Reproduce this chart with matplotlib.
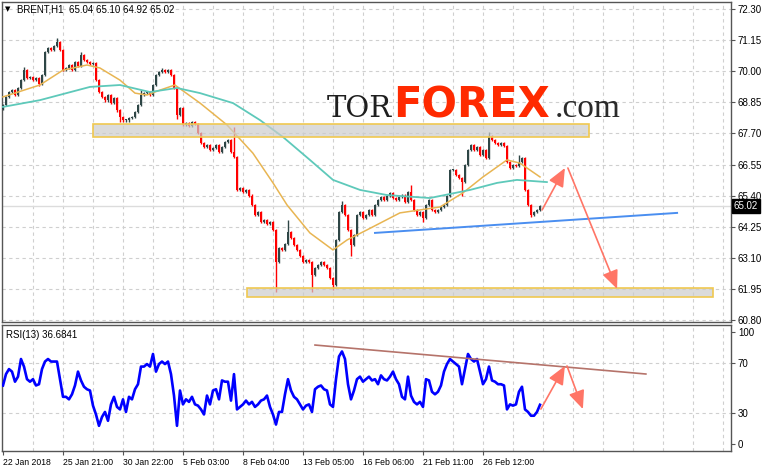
import numpy as np
import matplotlib.pyplot as plt
from matplotlib.patches import Rectangle
from matplotlib.transforms import blended_transform_factory

# hourly closes (one value per bar)
closes = [68.75, 69.05, 69.23, 69.30, 69.12, 69.38, 69.67, 70.04, 69.75, 69.79,
          69.67, 69.75, 69.53, 69.86, 70.71, 70.86, 70.78, 70.93, 71.08, 70.78,
          70.04, 70.12, 70.23, 70.04, 70.34, 70.19, 70.60, 70.41, 70.34, 70.27,
          70.30, 69.67, 69.23, 69.05, 68.93, 69.12, 68.82, 69.01, 68.56, 68.31,
          68.19, 68.19, 68.27, 68.31, 68.49, 68.75, 69.12, 69.19, 69.23, 69.12,
          69.49, 69.86, 69.97, 70.04, 69.97, 70.04, 69.86, 69.38, 68.38, 68.64,
          68.01, 68.08, 67.97, 68.12, 68.05, 67.71, 67.34, 67.20, 67.27, 67.09,
          67.16, 67.27, 67.01, 67.20, 67.38, 67.46, 67.01, 66.83, 65.61, 65.68,
          65.53, 65.61, 65.40, 65.05, 64.68, 64.79, 64.42, 64.50, 64.35, 64.42,
          64.13, 62.94, 63.46, 63.39, 63.61, 64.05, 63.83, 63.57, 63.39, 63.17,
          62.94, 63.02, 62.94, 62.46, 62.72, 62.83, 62.94, 62.83, 62.72, 62.35,
          62.09, 63.76, 64.79, 65.05, 64.68, 64.13, 63.57, 63.94, 64.68, 64.79,
          64.57, 64.68, 64.87, 64.68, 65.05, 65.24, 65.35, 65.24, 65.38, 65.50,
          65.31, 65.24, 65.35, 65.40, 65.16, 65.53, 65.24, 64.87, 64.68, 64.79,
          64.57, 65.05, 65.24, 64.87, 64.79, 64.87, 64.98, 65.05, 65.38, 66.35,
          66.35, 66.16, 66.05, 65.90, 66.53, 67.09, 67.27, 67.09, 67.20, 66.90,
          67.09, 66.79, 67.60, 67.46, 67.34, 67.27, 67.34, 67.23, 66.64, 66.42,
          66.53, 66.49, 66.64, 66.79, 65.61, 65.05, 64.68, 64.79, 64.87, 65.02]
first_open = 68.60

# long wicks
hi_bars = [7, 18, 26, 46, 53, 77, 95, 113, 136, 162, 172]
hi_vals = [70.15, 71.23, 70.71, 69.30, 70.12, 67.93, 64.50, 65.20, 65.79, 67.75, 66.90]
lo_bars = [12, 39, 58, 91, 103, 110, 116, 140, 153, 176]
lo_vals = [69.45, 68.12, 68.25, 61.83, 61.83, 61.90, 63.17, 64.42, 65.40, 64.60]

# moving averages
ma_fast_x = [0, 12.3, 20, 28, 32.3, 39, 44, 48, 52.3, 57.3, 65.7, 74.7, 83.3, 90,
             94.7, 102.3, 110, 114.7, 121.3, 132.3, 145.7, 153.3, 160, 168, 172.3, 179]
ma_fast_y = [69.05, 69.49, 70.04, 70.23, 70.12, 69.67, 69.19, 69.12, 69.30, 69.49,
             68.82, 68.01, 66.97, 65.87, 65.05, 64.02, 63.39, 63.76, 64.13, 64.76,
             64.98, 65.50, 66.09, 66.72, 66.60, 66.09]
ma_slow_x = [0, 12.3, 29, 39, 49, 58, 65.7, 76.7, 85.7, 93.3, 102.3, 110, 119, 128,
             142.3, 155.7, 164.7, 171.3, 181.3]
ma_slow_y = [68.68, 68.93, 69.42, 69.49, 69.23, 69.38, 69.19, 68.82, 68.19, 67.57,
             66.72, 65.98, 65.61, 65.42, 65.31, 65.61, 65.87, 65.98, 65.90]

rsi = [52, 61, 65, 63, 55, 59, 73, 67, 57, 55, 57, 52, 53, 65, 71, 73, 71, 71, 71, 57,
       43, 43, 41, 45, 52, 63, 56, 51, 49, 48, 36, 29, 20, 27, 31, 24, 37, 43, 35, 33,
       41, 31, 43, 41, 49, 53, 67, 67, 69, 67, 77, 63, 69, 71, 69, 71, 61, 44, 20, 48,
       37, 41, 39, 43, 37, 36, 33, 29, 44, 37, 48, 49, 41, 56, 55, 55, 40, 61, 33, 35,
       37, 40, 37, 39, 35, 37, 40, 41, 44, 35, 29, 21, 31, 31, 45, 57, 48, 43, 41, 37,
       33, 36, 37, 31, 49, 51, 52, 49, 48, 37, 35, 57, 75, 79, 73, 53, 41, 48, 57, 59,
       55, 57, 59, 56, 57, 53, 60, 57, 56, 59, 63, 57, 53, 43, 41, 59, 44, 39, 37, 39,
       35, 57, 56, 47, 45, 47, 52, 63, 69, 73, 71, 69, 67, 53, 65, 77, 73, 71, 73, 63,
       53, 57, 67, 56, 55, 53, 53, 52, 33, 37, 36, 37, 47, 51, 33, 31, 28, 28, 31, 36.68]

price_ticks = [60.80, 61.95, 63.10, 64.25, 65.40, 66.55, 67.70, 68.85, 70.00, 71.15, 72.30]
time_ticks = [0, 20, 40, 60, 80, 100, 120, 140, 160]
time_labels = ['22 Jan 2018', '25 Jan 21:00', '30 Jan 22:00', '5 Feb 03:00', '8 Feb 04:00',
               '13 Feb 05:00', '16 Feb 06:00', '21 Feb 11:00', '26 Feb 12:00']

# analyst drawings
zones = [(30, 195.3, 67.57, 68.05), (81.3, 236.7, 61.65, 61.98)]
support_x = [124, 224.7]
support_y = [64.02, 64.76]
price_arrows = [((179.7, 64.87), (187.3, 66.42)), ((188.3, 66.42), (204.7, 61.95))]
rsi_trend_x = [104, 214.3]
rsi_trend_y = [84.1, 61.1]
rsi_arrows = [((179.3, 33.3), (187.3, 67.5)), ((188, 67.5), (193.3, 33.3))]

plt.rcParams['font.family'] = ['Liberation Sans', 'DejaVu Sans']
W, H = 768, 471
fig = plt.figure(figsize=(W/100, H/100), dpi=100)
ax = fig.add_axes([2/W, 1-322/H, 729/W, 320/H])
ax2 = fig.add_axes([2/W, 1-451/H, 729/W, 126/H])
xl = (-0.33, 242.67)

grid_kw = dict(color='#cfcfcf', lw=0.8, ls=(0, (3, 3)), zorder=0)
for a in (ax, ax2):
    a.set_xlim(*xl)
    for gx in range(10, 250, 10):
        a.axvline(gx, **grid_kw)
    for s in a.spines.values():
        s.set_color('#555555')
        s.set_linewidth(1)

# ---- price panel
ax.set_ylim(60.725, 72.56)
for p in price_ticks:
    ax.axhline(p, **grid_kw)

n = len(closes)
x = np.arange(n)
c = np.array(closes)
o = np.array([first_open] + closes[:-1])
hi = np.maximum(o, c) + 0.05
lo = np.minimum(o, c) - 0.05
for b, v in zip(hi_bars, hi_vals):
    hi[b] = max(hi[b], v)
for b, v in zip(lo_bars, lo_vals):
    lo[b] = min(lo[b], v)
cols = np.where(c >= o, '#2e4646', '#ff0000')
ax.vlines(x, lo, hi, colors=cols, lw=1, zorder=3)
body = np.maximum(np.abs(c - o), 0.03)
ax.bar(x, body, bottom=np.minimum(o, c), width=0.5, color=cols, lw=0, zorder=3)

ax.plot(ma_fast_x, ma_fast_y, color='#e8b552', lw=1.1, zorder=4)
ax.plot(ma_slow_x, ma_slow_y, color='#5ec9ba', lw=1.3, zorder=4)

for x0, x1, y0, y1 in zones:
    ax.add_patch(Rectangle((x0, y0), x1 - x0, y1 - y0, facecolor=(0.8, 0.8, 0.8, 0.7),
                           edgecolor='#f0c850', lw=1.2, zorder=5))

ax.plot(support_x, support_y, color='#4a8ef0', lw=1.4, zorder=5)
arrow_kw = dict(arrowstyle='-|>,head_length=0.8,head_width=0.35', color='#ff7566',
                lw=1.2, mutation_scale=14, shrinkA=0, shrinkB=0)
for s, e in price_arrows:
    ax.annotate('', xy=e, xytext=s, arrowprops=arrow_kw, zorder=6)

ax.axhline(closes[-1], color='#dcdcdc', lw=1, zorder=1)
ax.yaxis.tick_right()
ax.set_yticks(price_ticks, [f'{p:.2f}' for p in price_ticks])
ax.tick_params(axis='y', length=3, width=0.8, pad=2, labelsize=7, colors='#555555',
               labelcolor='black')
ax.set_xticks([])
trans = blended_transform_factory(ax.transAxes, ax.transData)
ax.text(1.004, closes[-1], f'{closes[-1]:.2f}', transform=trans, va='center', ha='left',
        fontsize=7, color='white', bbox=dict(boxstyle='square,pad=0.2', fc='black', ec='black'),
        zorder=10, clip_on=False)

# ---- rsi panel
ax2.set_ylim(0, 100)
for lv in (30, 70):
    ax2.axhline(lv, **grid_kw)
ax2.plot(x, rsi, color='#0000ff', lw=1.9, zorder=3)
ax2.plot(rsi_trend_x, rsi_trend_y, color='#b5736a', lw=1.2, zorder=4)
for s, e in rsi_arrows:
    ax2.annotate('', xy=e, xytext=s, arrowprops=arrow_kw, zorder=6)
ax2.yaxis.tick_right()
ax2.set_yticks([5.5, 30, 70, 94.5], ['0', '30', '70', '100'])
ax2.tick_params(axis='y', length=3, width=0.8, pad=2, labelsize=7, colors='#555555',
                labelcolor='black')
ax2.set_xticks(time_ticks, time_labels)
ax2.tick_params(axis='x', length=3, width=0.8, pad=2, labelsize=6.2, colors='#555555',
                labelcolor='black')
for lbl in ax2.get_xticklabels():
    lbl.set_ha('left')

# ---- texts
fig.text(5/W, 1-9/H, '▼', fontsize=5, va='center', family='DejaVu Sans')
fig.text(17/W, 1-9/H, 'BRENT,H1  65.04 65.10 64.92 65.02', fontsize=7, va='center')
fig.text(6/W, 1-335/H, 'RSI(13) 36.6841', fontsize=7, va='center')

fig.text(392/W, 1-117/H, 'TOR', fontsize=21, family='DejaVu Serif', color='#1e1e1e',
         ha='right', va='baseline')
fig.text(393/W, 1-117/H, 'FOREX', fontsize=30, family='DejaVu Sans', weight='bold',
         color='#ff2a00', ha='left', va='baseline')
fig.text(555/W, 1-117/H, '.com', fontsize=24, family='Liberation Serif', color='#2a2a2a',
         ha='left', va='baseline')

fig.savefig('out.png', dpi=100, facecolor='white')
